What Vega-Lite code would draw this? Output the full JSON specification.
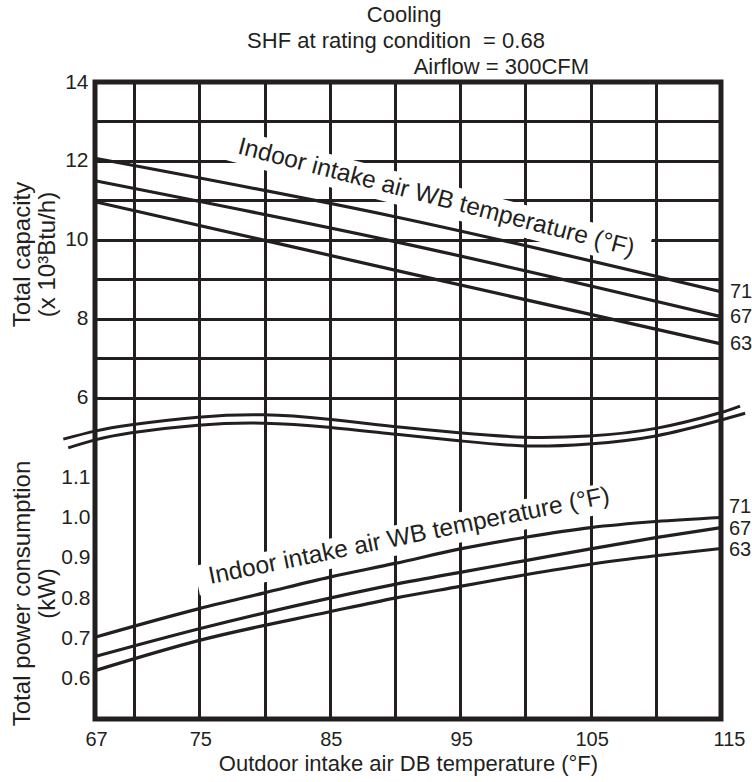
{
  "$schema": "https://vega.github.io/schema/vega-lite/v6.json",
  "width": 626,
  "height": 637,
  "autosize": "none",
  "padding": {"left": 95, "top": 82, "right": 31, "bottom": 63},
  "background": "white",
  "config": {
    "font": "Liberation Sans",
    "view": {"stroke": "#231f20", "strokeWidth": 5},
    "axis": {
      "domain": false,
      "ticks": false,
      "grid": true,
      "gridColor": "#231f20",
      "gridWidth": 3,
      "gridOpacity": 1,
      "labelFont": "Liberation Sans",
      "labelFontSize": 20,
      "labelColor": "#231f20",
      "titleFont": "Liberation Sans",
      "titleFontWeight": "normal",
      "titleColor": "#231f20"
    },
    "text": {"font": "Liberation Sans", "color": "#231f20"}
  },
  "datasets": {
    "capacity": [
      {"wb": 71, "db": 67, "cap": 12.07},
      {"wb": 71, "db": 90, "cap": 10.59},
      {"wb": 71, "db": 115, "cap": 8.69},
      {"wb": 67, "db": 67, "cap": 11.5},
      {"wb": 67, "db": 90, "cap": 9.96},
      {"wb": 67, "db": 115, "cap": 8.06},
      {"wb": 63, "db": 67, "cap": 10.97},
      {"wb": 63, "db": 91, "cap": 9.16},
      {"wb": 63, "db": 115, "cap": 7.37}
    ],
    "power": [
      {"wb": 71, "db": 67, "kw": 0.703},
      {"wb": 71, "db": 75, "kw": 0.774},
      {"wb": 71, "db": 80, "kw": 0.813},
      {"wb": 71, "db": 85, "kw": 0.852},
      {"wb": 71, "db": 90, "kw": 0.886},
      {"wb": 71, "db": 95, "kw": 0.922},
      {"wb": 71, "db": 100, "kw": 0.951},
      {"wb": 71, "db": 105, "kw": 0.975},
      {"wb": 71, "db": 110, "kw": 0.99},
      {"wb": 71, "db": 115, "kw": 1.0},
      {"wb": 67, "db": 67, "kw": 0.655},
      {"wb": 67, "db": 75, "kw": 0.724},
      {"wb": 67, "db": 85, "kw": 0.8},
      {"wb": 67, "db": 90, "kw": 0.834},
      {"wb": 67, "db": 95, "kw": 0.864},
      {"wb": 67, "db": 100, "kw": 0.893},
      {"wb": 67, "db": 105, "kw": 0.922},
      {"wb": 67, "db": 110, "kw": 0.95},
      {"wb": 67, "db": 115, "kw": 0.975},
      {"wb": 63, "db": 67, "kw": 0.62},
      {"wb": 63, "db": 75, "kw": 0.695},
      {"wb": 63, "db": 85, "kw": 0.766},
      {"wb": 63, "db": 90, "kw": 0.8},
      {"wb": 63, "db": 95, "kw": 0.829},
      {"wb": 63, "db": 100, "kw": 0.858},
      {"wb": 63, "db": 105, "kw": 0.884},
      {"wb": 63, "db": 110, "kw": 0.905},
      {"wb": 63, "db": 115, "kw": 0.923}
    ],
    "wave": [
      {"edge": "upper", "db": 64.57, "pos": 7.03},
      {"edge": "upper", "db": 67, "pos": 7.23},
      {"edge": "upper", "db": 69.8, "pos": 7.39},
      {"edge": "upper", "db": 74.9, "pos": 7.58},
      {"edge": "upper", "db": 79.9, "pos": 7.64},
      {"edge": "upper", "db": 84.9, "pos": 7.53},
      {"edge": "upper", "db": 90.1, "pos": 7.34},
      {"edge": "upper", "db": 94.9, "pos": 7.19},
      {"edge": "upper", "db": 99.9, "pos": 7.08},
      {"edge": "upper", "db": 104.9, "pos": 7.11},
      {"edge": "upper", "db": 110, "pos": 7.3},
      {"edge": "upper", "db": 114.8, "pos": 7.68},
      {"edge": "upper", "db": 116.46, "pos": 7.86},
      {"edge": "lower", "db": 64.95, "pos": 6.81},
      {"edge": "lower", "db": 67, "pos": 7.01},
      {"edge": "lower", "db": 69.8, "pos": 7.19},
      {"edge": "lower", "db": 74.9, "pos": 7.38},
      {"edge": "lower", "db": 79.9, "pos": 7.43},
      {"edge": "lower", "db": 84.9, "pos": 7.33},
      {"edge": "lower", "db": 90.1, "pos": 7.15},
      {"edge": "lower", "db": 94.9, "pos": 6.99},
      {"edge": "lower", "db": 99.9, "pos": 6.86},
      {"edge": "lower", "db": 104.9, "pos": 6.91},
      {"edge": "lower", "db": 110, "pos": 7.11},
      {"edge": "lower", "db": 114.8, "pos": 7.49},
      {"edge": "lower", "db": 116.85, "pos": 7.68}
    ],
    "note": [{"label": "Indoor intake air WB temperature (°F)"}]
  },
  "layer": [
    {
      "layer": [
        {
          "data": {"name": "note"},
          "mark": {"type": "rule", "color": "white", "strokeWidth": 32, "strokeCap": "butt", "clip": false},
          "encoding": {
            "x": {"datum": 77.05, "type": "quantitative", "scale": {"domain": [67, 115], "nice": false, "zero": false}},
            "y": {"datum": 12.44, "type": "quantitative", "scale": {"domain": [-2.127, 14], "nice": false, "zero": false}},
            "x2": {"datum": 109.41},
            "y2": {"datum": 9.66}
          }
        },
        {
          "data": {"name": "capacity"},
          "mark": {"type": "line", "interpolate": "monotone", "color": "#231f20", "strokeWidth": 3.2, "clip": false},
          "encoding": {
            "x": {
              "field": "db", "type": "quantitative",
              "scale": {"domain": [67, 115], "nice": false, "zero": false},
              "axis": {
                "orient": "bottom",
                "values": [67, 70, 75, 80, 85, 90, 95, 100, 105, 110, 115],
                "labelExpr": "datum.value == 67 || datum.value % 10 == 5 ? datum.label : ''",
                "labelFlush": false,
                "labelPadding": 10,
                "labelOffset": {"condition": {"test": "datum.value == 115", "value": 8}, "value": 1},
                "title": "Outdoor intake air DB temperature (°F)",
                "titleFontSize": 22,
                "titlePadding": 4
              }
            },
            "y": {
              "field": "cap", "type": "quantitative",
              "scale": {"domain": [-2.127, 14], "nice": false, "zero": false},
              "axis": {
                "orient": "left",
                "values": [6, 7, 8, 9, 10, 11, 12, 13, 14],
                "labelExpr": "datum.value % 2 == 0 ? datum.label : ''",
                "labelFontSize": 21,
                "labelPadding": 7,
                "title": ["Total capacity", "(x 10³Btu/h)"],
                "titleFontSize": 24,
                "titleAngle": 270,
                "titleX": -66,
                "titleY": 172,
                "titleAlign": "center",
                "titleBaseline": "alphabetic",
                "titleLineHeight": 25
              }
            },
            "detail": {"field": "wb", "type": "nominal"}
          }
        },
        {
          "data": {"name": "capacity"},
          "transform": [{"filter": "datum.db == 115"}],
          "mark": {"type": "text", "align": "left", "baseline": "middle", "dx": 9, "fontSize": 20, "clip": false},
          "encoding": {
            "x": {"field": "db", "type": "quantitative", "scale": {"domain": [67, 115], "nice": false, "zero": false}},
            "y": {"field": "cap", "type": "quantitative", "scale": {"domain": [-2.127, 14], "nice": false, "zero": false}},
            "text": {"field": "wb", "type": "nominal"}
          }
        },
        {
          "data": {"name": "note"},
          "mark": {"type": "text", "angle": 14.6, "align": "center", "baseline": "alphabetic", "fontSize": 24.5, "clip": false},
          "encoding": {
            "x": {"datum": 93.03, "type": "quantitative", "scale": {"domain": [67, 115], "nice": false, "zero": false}},
            "y": {"datum": 10.89, "type": "quantitative", "scale": {"domain": [-2.127, 14], "nice": false, "zero": false}},
            "text": {"field": "label", "type": "nominal"}
          }
        },
        {
          "data": {"name": "note"},
          "mark": {"type": "text", "align": "center", "baseline": "alphabetic", "fontSize": 22, "clip": false},
          "encoding": {
            "x": {"datum": 90.7, "type": "quantitative", "scale": {"domain": [67, 115], "nice": false, "zero": false}},
            "y": {"datum": 15.52, "type": "quantitative", "scale": {"domain": [-2.127, 14], "nice": false, "zero": false}},
            "text": {"value": "Cooling"}
          }
        },
        {
          "data": {"name": "note"},
          "mark": {"type": "text", "align": "center", "baseline": "alphabetic", "fontSize": 22, "clip": false},
          "encoding": {
            "x": {"datum": 90.08, "type": "quantitative", "scale": {"domain": [67, 115], "nice": false, "zero": false}},
            "y": {"datum": 14.86, "type": "quantitative", "scale": {"domain": [-2.127, 14], "nice": false, "zero": false}},
            "text": {"value": "SHF at rating condition\u00a0 = 0.68"}
          }
        },
        {
          "data": {"name": "note"},
          "mark": {"type": "text", "align": "center", "baseline": "alphabetic", "fontSize": 22, "clip": false},
          "encoding": {
            "x": {"datum": 98.16, "type": "quantitative", "scale": {"domain": [67, 115], "nice": false, "zero": false}},
            "y": {"datum": 14.2, "type": "quantitative", "scale": {"domain": [-2.127, 14], "nice": false, "zero": false}},
            "text": {"value": "Airflow = 300CFM"}
          }
        }
      ]
    },
    {
      "layer": [
        {
          "data": {"name": "note"},
          "mark": {"type": "rule", "color": "white", "strokeWidth": 30, "strokeCap": "butt", "clip": false},
          "encoding": {
            "x": {"datum": 74.82, "type": "quantitative", "scale": {"domain": [67, 115], "nice": false, "zero": false}},
            "y": {"datum": 0.843, "type": "quantitative", "scale": {"domain": [0.5, 2.0806], "nice": false, "zero": false}},
            "x2": {"datum": 108.49},
            "y2": {"datum": 1.064}
          }
        },
        {
          "data": {"name": "power"},
          "mark": {"type": "line", "interpolate": "monotone", "color": "#231f20", "strokeWidth": 3.2, "clip": false},
          "encoding": {
            "x": {"field": "db", "type": "quantitative", "scale": {"domain": [67, 115], "nice": false, "zero": false}},
            "y": {
              "field": "kw", "type": "quantitative",
              "scale": {"domain": [0.5, 2.0806], "nice": false, "zero": false},
              "axis": {
                "orient": "left",
                "values": [0.6, 0.7, 0.8, 0.9, 1.0, 1.1],
                "format": ".1f",
                "labelFontSize": 21,
                "labelPadding": 5,
                "title": ["Total power consumption", "(kW)"],
                "titleFontSize": 24,
                "titleAngle": 270,
                "titleX": -66,
                "titleY": 511,
                "titleAlign": "center",
                "titleBaseline": "alphabetic",
                "titleLineHeight": 25
              }
            },
            "detail": {"field": "wb", "type": "nominal"}
          }
        },
        {
          "data": {"name": "power"},
          "transform": [{"filter": "datum.db == 115 && datum.wb != 71"}],
          "mark": {"type": "text", "align": "left", "baseline": "middle", "dx": 8, "dy": 1, "fontSize": 20, "clip": false},
          "encoding": {
            "x": {"field": "db", "type": "quantitative", "scale": {"domain": [67, 115], "nice": false, "zero": false}},
            "y": {"field": "kw", "type": "quantitative", "scale": {"domain": [0.5, 2.0806], "nice": false, "zero": false}},
            "text": {"field": "wb", "type": "nominal"}
          }
        },
        {
          "data": {"name": "power"},
          "transform": [{"filter": "datum.db == 115 && datum.wb == 71"}],
          "mark": {"type": "text", "align": "left", "baseline": "middle", "dx": 8, "dy": -10, "fontSize": 20, "clip": false},
          "encoding": {
            "x": {"field": "db", "type": "quantitative", "scale": {"domain": [67, 115], "nice": false, "zero": false}},
            "y": {"field": "kw", "type": "quantitative", "scale": {"domain": [0.5, 2.0806], "nice": false, "zero": false}},
            "text": {"field": "wb", "type": "nominal"}
          }
        },
        {
          "data": {"name": "note"},
          "mark": {"type": "text", "angle": -11.5, "align": "center", "baseline": "alphabetic", "fontSize": 24.5, "clip": false},
          "encoding": {
            "x": {"datum": 91.19, "type": "quantitative", "scale": {"domain": [67, 115], "nice": false, "zero": false}},
            "y": {"datum": 0.936, "type": "quantitative", "scale": {"domain": [0.5, 2.0806], "nice": false, "zero": false}},
            "text": {"field": "label", "type": "nominal"}
          }
        }
      ]
    },
    {
      "data": {"name": "wave"},
      "mark": {"type": "line", "interpolate": "natural", "color": "#231f20", "strokeWidth": 3, "strokeCap": "butt", "clip": false},
      "encoding": {
        "x": {"field": "db", "type": "quantitative", "scale": {"domain": [67, 115], "nice": false, "zero": false}},
        "y": {"field": "pos", "type": "quantitative", "scale": {"domain": [0, 16], "nice": false, "zero": false}, "axis": null},
        "detail": {"field": "edge", "type": "nominal"}
      }
    }
  ],
  "resolve": {"scale": {"y": "independent"}, "axis": {"y": "independent"}}
}
